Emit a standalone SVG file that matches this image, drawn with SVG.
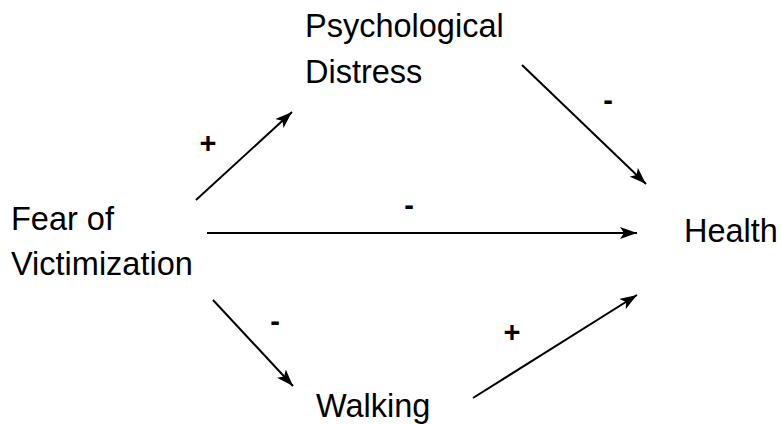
<svg xmlns="http://www.w3.org/2000/svg" width="781" height="424" viewBox="0 0 781 424">
<style>
.lbl{font-family:"Liberation Sans",Arial,Helvetica,sans-serif;font-size:32.5px;fill:#000}
.sgn{font-family:"Liberation Sans",Arial,Helvetica,sans-serif;font-size:29px;fill:#000;text-anchor:middle;font-weight:bold}
.edge{stroke:#000;stroke-width:2;fill:none;marker-end:url(#ah)}
</style>
<defs>
<marker id="ah" markerUnits="userSpaceOnUse" markerWidth="18" markerHeight="12" refX="17" refY="6" orient="auto" viewBox="0 0 18 12">
<path d="M0,0 L17,6 L0,12 L4,6 z" fill="#000"/>
</marker>
</defs>
<rect width="781" height="424" fill="#fff"/>
<g id="connectors">
<line class="edge" x1="196" y1="200" x2="292" y2="112"/>
<line class="edge" x1="522" y1="65" x2="646" y2="184"/>
<line class="edge" x1="207" y1="233" x2="637" y2="233"/>
<line class="edge" x1="213" y1="300" x2="293" y2="386"/>
<line class="edge" x1="473" y1="398" x2="637" y2="295"/>
<text class="sgn" x="208" y="153">+</text>
<text class="sgn" x="608" y="110">-</text>
<text class="sgn" x="409" y="215">-</text>
<text class="sgn" x="275" y="331">-</text>
<text class="sgn" x="512" y="342">+</text>
</g>
<g id="fear">
<text class="lbl" x="11" y="230">Fear of</text>
<text class="lbl" x="11" y="275">Victimization</text>
</g>
<g id="psych">
<text class="lbl" x="305" y="37">Psychological</text>
<text class="lbl" x="305" y="83">Distress</text>
</g>
<g id="health">
<text class="lbl" x="684" y="242">Health</text>
</g>
<g id="walking">
<text class="lbl" x="316" y="417">Walking</text>
</g>
</svg>
